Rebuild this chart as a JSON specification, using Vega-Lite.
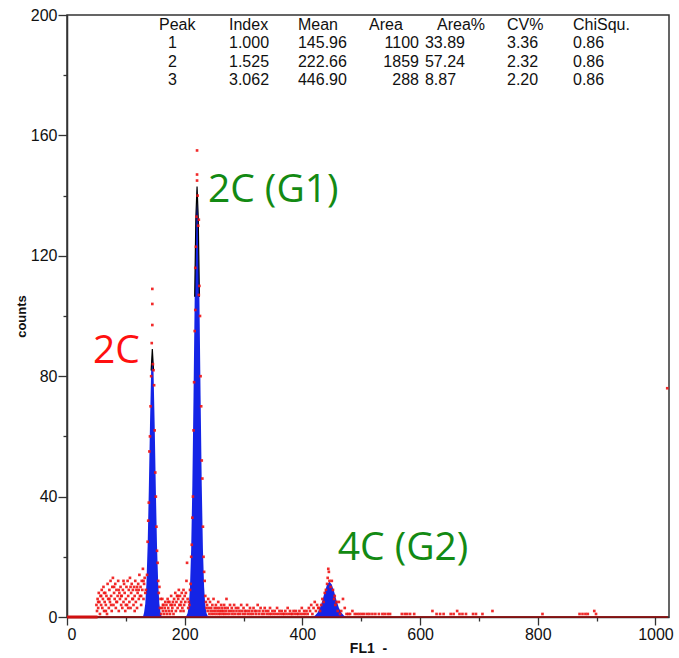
{
"$schema":"https://vega.github.io/schema/vega-lite/v6.json",
"width":602,"height":602,
"autosize":{"type":"none"},
"padding":{"left":67,"top":15,"right":10,"bottom":41},
"background":"white",
"config":{"view":{"stroke":"#333","strokeWidth":1.5},"font":"Liberation Sans"},
"datasets":{
"fit":[
{"peak":1,"ch":129,"cnt":0},{"peak":1,"ch":131,"cnt":1.5},{"peak":1,"ch":133,"cnt":4.4},{"peak":1,"ch":135,"cnt":11.1},{"peak":1,"ch":137,"cnt":23.5},{"peak":1,"ch":139,"cnt":42},{"peak":1,"ch":141,"cnt":63.8},{"peak":1,"ch":143,"cnt":81.9},{"peak":1,"ch":145,"cnt":89},{"peak":1,"ch":147,"cnt":81.9},{"peak":1,"ch":149,"cnt":63.8},{"peak":1,"ch":151,"cnt":42},{"peak":1,"ch":153,"cnt":23.5},{"peak":1,"ch":155,"cnt":11.1},{"peak":1,"ch":157,"cnt":4.4},{"peak":1,"ch":159,"cnt":1.5},{"peak":1,"ch":161,"cnt":0},
{"peak":2,"ch":201,"cnt":0},{"peak":2,"ch":203,"cnt":0.4},{"peak":2,"ch":205,"cnt":1.3},{"peak":2,"ch":207,"cnt":3.8},{"peak":2,"ch":209,"cnt":10},{"peak":2,"ch":211,"cnt":22.5},{"peak":2,"ch":213,"cnt":43.8},{"peak":2,"ch":215,"cnt":73.5},{"peak":2,"ch":217,"cnt":106.4},{"peak":2,"ch":219,"cnt":132.8},{"peak":2,"ch":221,"cnt":143},{"peak":2,"ch":223,"cnt":132.8},{"peak":2,"ch":225,"cnt":106.4},{"peak":2,"ch":227,"cnt":73.5},{"peak":2,"ch":229,"cnt":43.8},{"peak":2,"ch":231,"cnt":22.5},{"peak":2,"ch":233,"cnt":10},{"peak":2,"ch":235,"cnt":3.8},{"peak":2,"ch":237,"cnt":1.3},{"peak":2,"ch":239,"cnt":0.4},{"peak":2,"ch":241,"cnt":0},
{"peak":3,"ch":418,"cnt":0},{"peak":3,"ch":422,"cnt":0.6},{"peak":3,"ch":426,"cnt":1.5},{"peak":3,"ch":430,"cnt":3.1},{"peak":3,"ch":434,"cnt":5.5},{"peak":3,"ch":438,"cnt":8.4},{"peak":3,"ch":442,"cnt":10.8},{"peak":3,"ch":446,"cnt":11.7},{"peak":3,"ch":450,"cnt":10.8},{"peak":3,"ch":454,"cnt":8.4},{"peak":3,"ch":458,"cnt":5.5},{"peak":3,"ch":462,"cnt":3.1},{"peak":3,"ch":466,"cnt":1.5},{"peak":3,"ch":470,"cnt":0.6},{"peak":3,"ch":474,"cnt":0}
],
"obs":[
{"ch":50,"cnt":4},{"ch":51,"cnt":2},{"ch":52,"cnt":6},{"ch":53,"cnt":3},{"ch":53,"cnt":5},{"ch":54,"cnt":8},{"ch":55,"cnt":5},{"ch":56,"cnt":1},{"ch":57,"cnt":7},{"ch":58,"cnt":4},{"ch":58,"cnt":7},{"ch":59,"cnt":9},{"ch":60,"cnt":3},{"ch":61,"cnt":6},{"ch":62,"cnt":10},{"ch":63,"cnt":2},{"ch":63,"cnt":8},{"ch":64,"cnt":5},{"ch":65,"cnt":8},{"ch":66,"cnt":4},{"ch":66,"cnt":2},{"ch":67,"cnt":7},{"ch":68,"cnt":1},{"ch":69,"cnt":11},{"ch":70,"cnt":6},{"ch":71,"cnt":3},{"ch":72,"cnt":9},{"ch":72,"cnt":6},{"ch":73,"cnt":5},{"ch":74,"cnt":12},{"ch":75,"cnt":7},{"ch":75,"cnt":4},{"ch":76,"cnt":2},{"ch":77,"cnt":10},{"ch":78,"cnt":13},{"ch":79,"cnt":4},{"ch":80,"cnt":8},{"ch":80,"cnt":10},{"ch":81,"cnt":6},{"ch":82,"cnt":11},{"ch":83,"cnt":3},{"ch":84,"cnt":9},{"ch":84,"cnt":5},{"ch":85,"cnt":5},{"ch":86,"cnt":7},{"ch":87,"cnt":12},{"ch":88,"cnt":2},{"ch":88,"cnt":9},{"ch":89,"cnt":8},{"ch":90,"cnt":6},{"ch":91,"cnt":10},{"ch":92,"cnt":4},{"ch":92,"cnt":7},{"ch":93,"cnt":7},{"ch":94,"cnt":3},{"ch":95,"cnt":9},{"ch":96,"cnt":5},{"ch":96,"cnt":12},{"ch":97,"cnt":11},{"ch":98,"cnt":8},{"ch":99,"cnt":2},{"ch":100,"cnt":6},{"ch":100,"cnt":4},{"ch":101,"cnt":10},{"ch":102,"cnt":4},{"ch":103,"cnt":12},{"ch":104,"cnt":7},{"ch":104,"cnt":3},{"ch":105,"cnt":9},{"ch":106,"cnt":5},{"ch":107,"cnt":13},{"ch":108,"cnt":3},{"ch":108,"cnt":10},{"ch":109,"cnt":8},{"ch":110,"cnt":11},{"ch":111,"cnt":6},{"ch":112,"cnt":9},{"ch":112,"cnt":6},{"ch":113,"cnt":4},{"ch":114,"cnt":10},{"ch":115,"cnt":7},{"ch":115,"cnt":2},{"ch":116,"cnt":12},{"ch":117,"cnt":5},{"ch":118,"cnt":9},{"ch":119,"cnt":3},{"ch":119,"cnt":10},{"ch":120,"cnt":8},{"ch":121,"cnt":11},{"ch":122,"cnt":6},{"ch":122,"cnt":9},{"ch":123,"cnt":14},{"ch":124,"cnt":7},{"ch":125,"cnt":10},{"ch":126,"cnt":4},{"ch":126,"cnt":7},{"ch":127,"cnt":12},{"ch":128,"cnt":9},{"ch":129,"cnt":16},{"ch":130,"cnt":6},{"ch":130,"cnt":12},{"ch":131,"cnt":11},{"ch":132,"cnt":13},{"ch":133,"cnt":8},
{"ch":134,"cnt":9},{"ch":136,"cnt":14},{"ch":137,"cnt":25},{"ch":138,"cnt":32},{"ch":139,"cnt":38},{"ch":140,"cnt":55},{"ch":141,"cnt":60},{"ch":142,"cnt":70},{"ch":143,"cnt":80},{"ch":144,"cnt":91},{"ch":145,"cnt":109},{"ch":145,"cnt":104},{"ch":145,"cnt":97},{"ch":146,"cnt":84},{"ch":147,"cnt":82},{"ch":148,"cnt":77},{"ch":149,"cnt":62},{"ch":150,"cnt":48},{"ch":151,"cnt":40},{"ch":152,"cnt":30},{"ch":153,"cnt":22},{"ch":154,"cnt":18},{"ch":155,"cnt":12},{"ch":156,"cnt":8},{"ch":157,"cnt":10},{"ch":158,"cnt":3},{"ch":159,"cnt":6},
{"ch":160,"cnt":1},{"ch":161,"cnt":3},{"ch":162,"cnt":6},{"ch":163,"cnt":2},{"ch":163,"cnt":4},{"ch":164,"cnt":4},{"ch":165,"cnt":1},{"ch":166,"cnt":3},{"ch":167,"cnt":5},{"ch":168,"cnt":2},{"ch":169,"cnt":4},{"ch":170,"cnt":1},{"ch":171,"cnt":6},{"ch":172,"cnt":3},{"ch":172,"cnt":5},{"ch":173,"cnt":2},{"ch":174,"cnt":5},{"ch":175,"cnt":1},{"ch":176,"cnt":4},{"ch":177,"cnt":7},{"ch":178,"cnt":2},{"ch":178,"cnt":4},{"ch":179,"cnt":3},{"ch":180,"cnt":5},{"ch":181,"cnt":1},{"ch":182,"cnt":6},{"ch":183,"cnt":4},{"ch":184,"cnt":8},{"ch":185,"cnt":2},{"ch":186,"cnt":5},{"ch":187,"cnt":7},{"ch":188,"cnt":3},{"ch":188,"cnt":7},{"ch":189,"cnt":6},{"ch":190,"cnt":9},{"ch":191,"cnt":4},{"ch":192,"cnt":7},{"ch":193,"cnt":2},{"ch":193,"cnt":4},{"ch":194,"cnt":5},{"ch":195,"cnt":8},{"ch":196,"cnt":3},{"ch":197,"cnt":6},{"ch":198,"cnt":9},{"ch":198,"cnt":2},{"ch":199,"cnt":4},{"ch":200,"cnt":7},{"ch":201,"cnt":5},{"ch":202,"cnt":8},{"ch":203,"cnt":12},{"ch":204,"cnt":18},{"ch":205,"cnt":6},
{"ch":206,"cnt":3},{"ch":207,"cnt":5},{"ch":208,"cnt":4},{"ch":209,"cnt":9},{"ch":210,"cnt":11},{"ch":211,"cnt":20},{"ch":212,"cnt":24},{"ch":213,"cnt":33},{"ch":214,"cnt":40},{"ch":215,"cnt":62},{"ch":216,"cnt":78},{"ch":217,"cnt":95},{"ch":218,"cnt":102},{"ch":218,"cnt":116},{"ch":219,"cnt":123},{"ch":220,"cnt":133},{"ch":221,"cnt":155},{"ch":221,"cnt":147},{"ch":221,"cnt":145},{"ch":222,"cnt":140},{"ch":223,"cnt":130},{"ch":224,"cnt":132},{"ch":224,"cnt":107},{"ch":225,"cnt":110},{"ch":226,"cnt":100},{"ch":227,"cnt":80},{"ch":228,"cnt":70},{"ch":229,"cnt":52},{"ch":230,"cnt":46},{"ch":231,"cnt":30},{"ch":232,"cnt":20},{"ch":233,"cnt":15},{"ch":234,"cnt":12},{"ch":235,"cnt":7},{"ch":236,"cnt":5},{"ch":237,"cnt":3},{"ch":238,"cnt":4},
{"ch":239,"cnt":2},{"ch":240,"cnt":6},{"ch":241,"cnt":3},{"ch":242,"cnt":1},{"ch":243,"cnt":5},{"ch":244,"cnt":2},{"ch":245,"cnt":3},{"ch":246,"cnt":1},{"ch":247,"cnt":4},{"ch":248,"cnt":2},{"ch":249,"cnt":6},{"ch":250,"cnt":1},{"ch":251,"cnt":3},{"ch":252,"cnt":2},{"ch":253,"cnt":4},{"ch":254,"cnt":1},{"ch":255,"cnt":3},{"ch":256,"cnt":2},{"ch":257,"cnt":5},{"ch":258,"cnt":1},{"ch":259,"cnt":3},{"ch":260,"cnt":2},{"ch":261,"cnt":1},{"ch":262,"cnt":4},{"ch":263,"cnt":2},{"ch":264,"cnt":3},{"ch":265,"cnt":1},{"ch":266,"cnt":2},{"ch":267,"cnt":4},{"ch":268,"cnt":1},{"ch":269,"cnt":3},{"ch":270,"cnt":2},{"ch":271,"cnt":6},{"ch":272,"cnt":1},{"ch":273,"cnt":3},{"ch":275,"cnt":2},{"ch":276,"cnt":1},{"ch":277,"cnt":4},{"ch":279,"cnt":2},{"ch":280,"cnt":3},{"ch":281,"cnt":1},{"ch":283,"cnt":2},{"ch":284,"cnt":4},{"ch":285,"cnt":1},{"ch":287,"cnt":3},{"ch":288,"cnt":2},{"ch":290,"cnt":1},{"ch":291,"cnt":3},{"ch":293,"cnt":2},{"ch":294,"cnt":1},{"ch":296,"cnt":4},{"ch":297,"cnt":2},{"ch":299,"cnt":1},{"ch":300,"cnt":3},{"ch":302,"cnt":2},{"ch":303,"cnt":1},{"ch":305,"cnt":2},{"ch":306,"cnt":4},{"ch":308,"cnt":1},{"ch":309,"cnt":2},{"ch":311,"cnt":3},{"ch":312,"cnt":1},{"ch":314,"cnt":2},{"ch":316,"cnt":1},{"ch":317,"cnt":3},{"ch":319,"cnt":2},{"ch":321,"cnt":1},{"ch":322,"cnt":2},{"ch":324,"cnt":4},{"ch":326,"cnt":1},{"ch":327,"cnt":2},{"ch":329,"cnt":3},{"ch":331,"cnt":1},{"ch":333,"cnt":2},{"ch":335,"cnt":1},{"ch":336,"cnt":3},{"ch":338,"cnt":2},{"ch":340,"cnt":1},{"ch":342,"cnt":2},{"ch":344,"cnt":1},{"ch":345,"cnt":3},{"ch":347,"cnt":1},{"ch":349,"cnt":2},{"ch":351,"cnt":1},{"ch":353,"cnt":2},{"ch":355,"cnt":1},{"ch":357,"cnt":3},{"ch":359,"cnt":1},{"ch":361,"cnt":2},{"ch":363,"cnt":1},{"ch":365,"cnt":2},{"ch":367,"cnt":1},{"ch":369,"cnt":1},{"ch":371,"cnt":2},{"ch":373,"cnt":1},{"ch":375,"cnt":3},{"ch":377,"cnt":1},{"ch":379,"cnt":2},{"ch":381,"cnt":1},{"ch":383,"cnt":1},{"ch":385,"cnt":2},{"ch":387,"cnt":1},{"ch":389,"cnt":2},{"ch":391,"cnt":1},{"ch":393,"cnt":1},{"ch":395,"cnt":2},{"ch":397,"cnt":1},{"ch":399,"cnt":3},{"ch":401,"cnt":1},{"ch":403,"cnt":2},{"ch":405,"cnt":1},{"ch":407,"cnt":2},{"ch":409,"cnt":1},{"ch":411,"cnt":3},{"ch":413,"cnt":2},{"ch":415,"cnt":4},{"ch":417,"cnt":1},{"ch":419,"cnt":3},{"ch":421,"cnt":5},{"ch":423,"cnt":2},{"ch":425,"cnt":4},{"ch":427,"cnt":3},
{"ch":428,"cnt":3},{"ch":430,"cnt":2},{"ch":432,"cnt":4},{"ch":434,"cnt":6},{"ch":436,"cnt":5},{"ch":438,"cnt":8},{"ch":440,"cnt":9},{"ch":442,"cnt":11},{"ch":443,"cnt":13},{"ch":444,"cnt":16},{"ch":445,"cnt":15},{"ch":446,"cnt":12},{"ch":448,"cnt":10},{"ch":450,"cnt":12},{"ch":452,"cnt":9},{"ch":454,"cnt":6},{"ch":455,"cnt":7},{"ch":456,"cnt":4},{"ch":458,"cnt":5},{"ch":460,"cnt":2},{"ch":462,"cnt":5},{"ch":464,"cnt":1},{"ch":466,"cnt":2},
{"ch":469,"cnt":6},{"ch":472,"cnt":3},{"ch":475,"cnt":1},{"ch":478,"cnt":1},{"ch":481,"cnt":1},{"ch":485,"cnt":2},{"ch":489,"cnt":1},{"ch":493,"cnt":1},{"ch":497,"cnt":1},{"ch":501,"cnt":1},{"ch":505,"cnt":1},{"ch":510,"cnt":1},{"ch":514,"cnt":1},{"ch":519,"cnt":1},{"ch":524,"cnt":1},{"ch":530,"cnt":1},{"ch":536,"cnt":1},{"ch":540,"cnt":1},{"ch":545,"cnt":1},{"ch":549,"cnt":1},{"ch":569,"cnt":1},{"ch":574,"cnt":1},{"ch":578,"cnt":1},{"ch":583,"cnt":1},{"ch":590,"cnt":1},{"ch":621,"cnt":2},{"ch":628,"cnt":1},{"ch":634,"cnt":1},{"ch":640,"cnt":1},{"ch":652,"cnt":1},{"ch":657,"cnt":1},{"ch":663,"cnt":2},{"ch":667,"cnt":1},{"ch":672,"cnt":1},{"ch":678,"cnt":1},{"ch":690,"cnt":1},{"ch":695,"cnt":1},{"ch":706,"cnt":1},{"ch":723,"cnt":2},{"ch":808,"cnt":1},{"ch":871,"cnt":1},{"ch":876,"cnt":1},{"ch":881,"cnt":1},{"ch":885,"cnt":1},{"ch":896,"cnt":2},{"ch":899,"cnt":1},
{"ch":1020,"cnt":76}
],
"stats":[
{"col":"Peak","row":0,"t":"Peak"},{"col":"Peak","row":1,"t":"1"},{"col":"Peak","row":2,"t":"2"},{"col":"Peak","row":3,"t":"3"},
{"col":"Index","row":0,"t":"Index"},{"col":"Index","row":1,"t":"1.000"},{"col":"Index","row":2,"t":"1.525"},{"col":"Index","row":3,"t":"3.062"},
{"col":"Mean","row":0,"t":"Mean"},{"col":"Mean","row":1,"t":"145.96"},{"col":"Mean","row":2,"t":"222.66"},{"col":"Mean","row":3,"t":"446.90"},
{"col":"Area","row":0,"t":"Area"},{"col":"Area","row":1,"t":"1100"},{"col":"Area","row":2,"t":"1859"},{"col":"Area","row":3,"t":"288"},
{"col":"AreaPct","row":0,"t":"Area%"},{"col":"AreaPct","row":1,"t":"33.89"},{"col":"AreaPct","row":2,"t":"57.24"},{"col":"AreaPct","row":3,"t":"8.87"},
{"col":"CV","row":0,"t":"CV%"},{"col":"CV","row":1,"t":"3.36"},{"col":"CV","row":2,"t":"2.32"},{"col":"CV","row":3,"t":"2.20"},
{"col":"Chi","row":0,"t":"ChiSqu."},{"col":"Chi","row":1,"t":"0.86"},{"col":"Chi","row":2,"t":"0.86"},{"col":"Chi","row":3,"t":"0.86"}
],
"notes":[
{"note":"2C","grp":"ploidy"},{"note":"2C (G1)","grp":"phase"},{"note":"4C (G2)","grp":"phase"}
]
},
"layer":[
{"layer":[
{"data":{"name":"fit"},
 "mark":{"type":"area","color":"#1424e6","interpolate":"linear"},
 "encoding":{
  "x":{"field":"ch","type":"quantitative","scale":{"domain":[0,1023],"nice":false,"zero":false},
   "axis":{"title":"FL1\u00a0\u00a0-","values":[0,100,200,300,400,500,600,700,800,900,1000],"format":"d",
    "labelExpr":"datum.value % 200 === 0 ? datum.label : ''",
    "tickSize":{"condition":{"test":"datum.value % 200 === 0","value":8},"value":4},
    "grid":false,"labelFontSize":16,"labelColor":"#111","labelPadding":1,"labelFont":"Liberation Sans",
    "domainColor":"#333","domainWidth":1.5,"tickColor":"#333","tickWidth":1.3,
    "titleFontSize":14,"titleFontWeight":"bold","titleColor":"#111","titlePadding":-1,"titleFont":"Liberation Sans"}},
  "y":{"field":"cnt","type":"quantitative","scale":{"domain":[0,200],"nice":false},
   "axis":{"title":"counts","values":[0,20,40,60,80,100,120,140,160,180,200],
    "labelExpr":"datum.value % 40 === 0 ? datum.label : ''",
    "tickSize":{"condition":{"test":"datum.value % 40 === 0","value":9},"value":4},
    "grid":false,"labelFontSize":16,"labelColor":"#111","labelPadding":1,"labelFont":"Liberation Sans",
    "domainColor":"#333","domainWidth":1.5,"tickColor":"#333","tickWidth":1.3,
    "titleFontSize":13,"titleFontWeight":"bold","titleColor":"#111","titlePadding":2,"titleFont":"Liberation Sans"}},
  "detail":{"field":"peak","type":"nominal"}
 }},
{"data":{"name":"fit"},
 "transform":[{"filter":"datum.cnt >= 78"}],
 "mark":{"type":"line","color":"#000","strokeWidth":1.2},
 "encoding":{"x":{"field":"ch","type":"quantitative"},"y":{"field":"cnt","type":"quantitative"},"detail":{"field":"peak","type":"nominal"}}},
{"data":{"values":[{"ch":0,"cnt":0},{"ch":1021,"cnt":0}]},
 "mark":{"type":"line","color":"#9a0a0a","strokeWidth":1.6},
 "encoding":{"x":{"field":"ch","type":"quantitative"},"y":{"field":"cnt","type":"quantitative"}}},
{"data":{"values":[{"ch":0,"cnt":0},{"ch":52,"cnt":0}]},
 "mark":{"type":"line","color":"#d01010","strokeWidth":3},
 "encoding":{"x":{"field":"ch","type":"quantitative"},"y":{"field":"cnt","type":"quantitative"}}},
{"data":{"name":"obs"},
 "mark":{"type":"point","shape":"square","filled":true,"size":7,"color":"#f01414","opacity":0.9},
 "encoding":{"x":{"field":"ch","type":"quantitative"},"y":{"field":"cnt","type":"quantitative"}}},
{"data":{"name":"notes"},"transform":[{"filter":"datum.note === '2C'"}],
 "mark":{"type":"text","color":"#ff1010","font":"Open Sans","fontSize":39,"align":"left","baseline":"alphabetic"},
 "encoding":{"text":{"field":"note"},"x":{"datum":44,"type":"quantitative"},"y":{"datum":84.4,"type":"quantitative"}}},
{"data":{"name":"notes"},"transform":[{"filter":"datum.note === '2C (G1)'"}],
 "mark":{"type":"text","color":"#138a13","font":"Open Sans","fontSize":39,"align":"left","baseline":"alphabetic"},
 "encoding":{"text":{"field":"note"},"x":{"datum":239.4,"type":"quantitative"},"y":{"datum":137.9,"type":"quantitative"}}},
{"data":{"name":"notes"},"transform":[{"filter":"datum.note === '4C (G2)'"}],
 "mark":{"type":"text","color":"#138a13","font":"Open Sans","fontSize":39,"align":"left","baseline":"alphabetic"},
 "encoding":{"text":{"field":"note"},"x":{"datum":460,"type":"quantitative"},"y":{"datum":18.9,"type":"quantitative"}}}
]},
{"data":{"name":"stats"},
 "encoding":{
  "y":{"field":"row","type":"quantitative","scale":{"domain":[-0.546,32.35],"reverse":true,"nice":false,"zero":false},"axis":null},
  "text":{"field":"t","type":"nominal"}
 },
 "layer":[
  {"transform":[{"filter":"datum.col === 'Peak' && datum.row === 0"}],"mark":{"type":"text","align":"left","baseline":"middle","fontSize":16,"font":"Liberation Sans","color":"#111"},"encoding":{"x":{"datum":156.3,"type":"quantitative"}}},
  {"transform":[{"filter":"datum.col === 'Peak' && datum.row > 0"}],"mark":{"type":"text","align":"center","baseline":"middle","fontSize":16,"font":"Liberation Sans","color":"#111"},"encoding":{"x":{"datum":179.3,"type":"quantitative"}}},
  {"transform":[{"filter":"datum.col === 'Index'"}],"mark":{"type":"text","align":"left","baseline":"middle","fontSize":16,"font":"Liberation Sans","color":"#111"},"encoding":{"x":{"datum":275.3,"type":"quantitative"}}},
  {"transform":[{"filter":"datum.col === 'Mean'"}],"mark":{"type":"text","align":"left","baseline":"middle","fontSize":16,"font":"Liberation Sans","color":"#111"},"encoding":{"x":{"datum":392.5,"type":"quantitative"}}},
  {"transform":[{"filter":"datum.col === 'Area' && datum.row === 0"}],"mark":{"type":"text","align":"left","baseline":"middle","fontSize":16,"font":"Liberation Sans","color":"#111"},"encoding":{"x":{"datum":513.2,"type":"quantitative"}}},
  {"transform":[{"filter":"datum.col === 'Area' && datum.row > 0"}],"mark":{"type":"text","align":"right","baseline":"middle","fontSize":16,"font":"Liberation Sans","color":"#111"},"encoding":{"x":{"datum":598.1,"type":"quantitative"}}},
  {"transform":[{"filter":"datum.col === 'AreaPct' && datum.row === 0"}],"mark":{"type":"text","align":"left","baseline":"middle","fontSize":16,"font":"Liberation Sans","color":"#111"},"encoding":{"x":{"datum":628.8,"type":"quantitative"}}},
  {"transform":[{"filter":"datum.col === 'AreaPct' && datum.row > 0"}],"mark":{"type":"text","align":"left","baseline":"middle","fontSize":16,"font":"Liberation Sans","color":"#111"},"encoding":{"x":{"datum":608.3,"type":"quantitative"}}},
  {"transform":[{"filter":"datum.col === 'CV'"}],"mark":{"type":"text","align":"left","baseline":"middle","fontSize":16,"font":"Liberation Sans","color":"#111"},"encoding":{"x":{"datum":747.7,"type":"quantitative"}}},
  {"transform":[{"filter":"datum.col === 'Chi'"}],"mark":{"type":"text","align":"left","baseline":"middle","fontSize":16,"font":"Liberation Sans","color":"#111"},"encoding":{"x":{"datum":859.9,"type":"quantitative"}}}
 ]}
],
"resolve":{"scale":{"y":"independent"}}
}
